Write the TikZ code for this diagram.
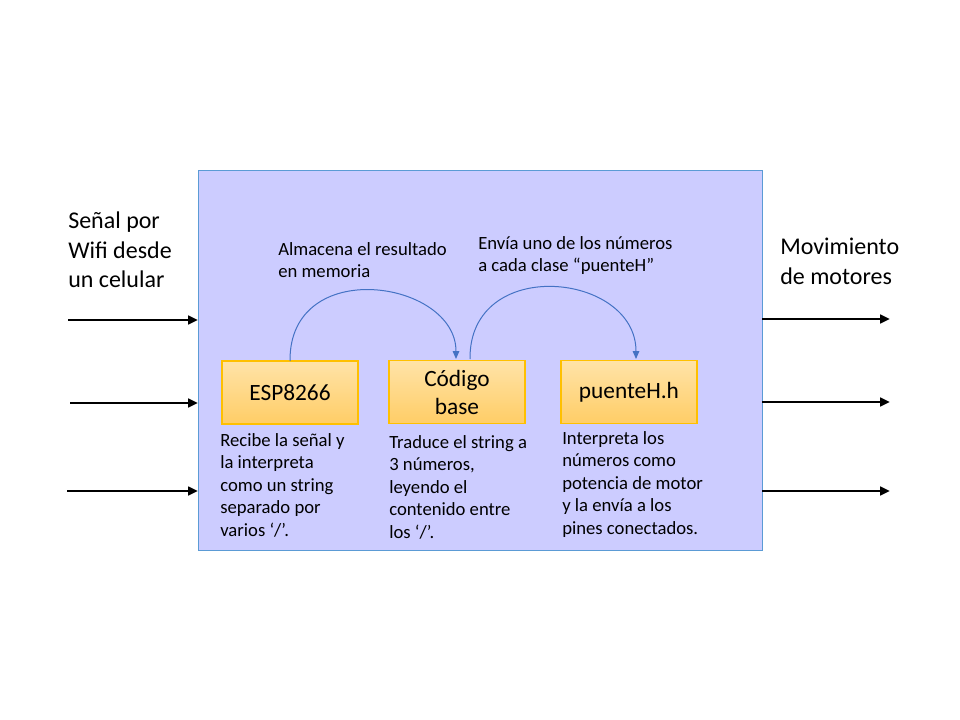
\documentclass[tikz,border=0pt]{standalone}
\usepackage{fontspec}
\setmainfont{Carlito}
\usetikzlibrary{arrows.meta,shadings}
\definecolor{panelfill}{HTML}{CCCCFF}
\definecolor{panelline}{HTML}{5B9BD5}
\definecolor{boxtop}{HTML}{FFE3A8}
\definecolor{boxbot}{HTML}{FFCD66}
\definecolor{boxline}{HTML}{FFC000}
\definecolor{curvecol}{HTML}{4472C4}
\tikzset{
  x=0.75pt,y=-0.75pt,
  panel/.style={draw=panelline,fill=panelfill,line width=0.75pt},
  block/.style={draw=boxline,top color=boxtop,bottom color=boxbot,line width=0.9pt,
    minimum width=136*0.75pt,minimum height=63*0.75pt,inner sep=0pt,align=center,
    font=\fontsize{17.5}{21}\selectfont},
  desc/.style={anchor=north west,inner sep=0pt,align=left,font=\fontsize{14}{16.9}\selectfont},
  big/.style={anchor=north west,inner sep=0pt,align=left,font=\fontsize{18}{22}\selectfont},
  io/.style={line width=2.2pt,-{Triangle[length=7.5pt,width=6.5pt]}},
  flow/.style={draw=curvecol,line width=0.75pt,-{Triangle[length=6pt,width=5pt]}}
}
\begin{document}
\begin{tikzpicture}
\useasboundingbox (0,0) rectangle (960,720);
\node[panel,minimum width=564*0.75pt,minimum height=380*0.75pt,inner sep=0pt,anchor=north west] (panel) at (198,170) {};
\node[block] (esp) at (290,392.5) {ESP8266};
\node[block] (cod) at (457,392) {Código\\base};
\node[block] (ph) at (629,392) {puenteH.h};
\node[desc] (tesp) at (220,433) {Recibe la señal y\\la interpreta\\como un string\\separado por\\varios ‘/’.};
\node[desc] (tcod) at (389,435) {Traduce el string a\\3 números,\\leyendo el\\contenido entre\\los ‘/’.};
\node[desc] (tph) at (562,431) {Interpreta los\\números como\\potencia de motor\\y la envía a los\\pines conectados.};
\node[desc] (talm) at (278,242) {Almacena el resultado\\en memoria};
\node[desc] (tenv) at (478,236) {Envía uno de los números\\a cada clase “puenteH”};
\node[big] (tin) at (68,212) {Señal por\\Wifi desde\\un celular};
\node[big] (tout) at (780,238) {Movimiento\\de motores};
\coordinate (a1) at (290,361);
\coordinate (a2) at (456,359);
\coordinate (b1) at (470,359);
\coordinate (b2) at (636,359);
\draw[flow] (a1) .. controls (289,255) and (456,280) .. (a2);
\draw[flow] (b1) .. controls (469,255) and (636,272) .. (b2);
\coordinate (i1) at (68,320);  \coordinate (j1) at (198,320);
\coordinate (i2) at (70,403);  \coordinate (j2) at (198,403);
\coordinate (i3) at (67,491);  \coordinate (j3) at (198,491);
\coordinate (o1) at (762,319); \coordinate (p1) at (890,319);
\coordinate (o2) at (762,402); \coordinate (p2) at (890,402);
\coordinate (o3) at (762,491); \coordinate (p3) at (890,491);
\draw[io] (i1) -- (j1);
\draw[io] (i2) -- (j2);
\draw[io] (i3) -- (j3);
\draw[io] (o1) -- (p1);
\draw[io] (o2) -- (p2);
\draw[io] (o3) -- (p3);
\end{tikzpicture}
\end{document}
